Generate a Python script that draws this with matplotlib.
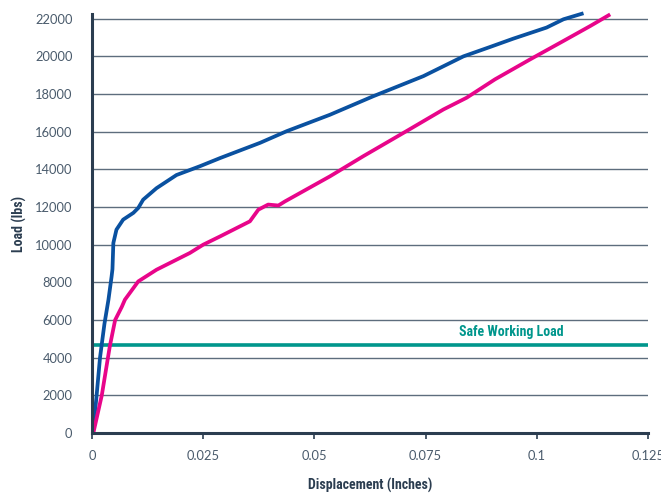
import matplotlib
matplotlib.use("Agg")
import matplotlib.pyplot as plt
from matplotlib import font_manager as fm

# Data
blue_x = [0.0002, 0.001, 0.0018, 0.0028, 0.0037, 0.0044, 0.0046, 0.0048, 0.0055, 0.007,
          0.0093, 0.0104, 0.0115, 0.0145, 0.019, 0.0243, 0.0288, 0.0378, 0.0438, 0.0535,
          0.0632, 0.0745, 0.0835, 0.0895, 0.0947, 0.1022, 0.106, 0.1105]
blue_y = [0, 1900, 4000, 5800, 7080, 8300, 8700, 10090, 10800, 11330,
          11690, 11950, 12390, 13000, 13700, 14170, 14600, 15410, 16030, 16900,
          17880, 18950, 20000, 20500, 20940, 21530, 21970, 22290]

pink_x = [0.0003, 0.0022, 0.004, 0.0052, 0.0067, 0.0074, 0.0104, 0.0145, 0.022, 0.025,
          0.0288, 0.0355, 0.0366, 0.0374, 0.0396, 0.0419, 0.0434, 0.0535, 0.061, 0.0707,
          0.079, 0.0842, 0.0906, 0.0985, 0.106, 0.112, 0.1165]
pink_y = [0, 2000, 4600, 6000, 6700, 7080, 8050, 8670, 9560, 10000,
          10440, 11240, 11600, 11860, 12130, 12080, 12300, 13630, 14700, 16030,
          17180, 17800, 18780, 19840, 20820, 21610, 22230]

safe_load = 4650
safe_label = "Safe Working Load"

x_ticks = [0, 0.025, 0.05, 0.075, 0.1, 0.125]
x_tick_labels = ["0", "0.025", "0.05", "0.075", "0.1", "0.125"]
y_ticks = list(range(0, 22001, 2000))
y_tick_labels = [str(v) for v in y_ticks]

BLUE = "#0a51a0"
PINK = "#e8058a"
TEAL = "#00968c"
NAVY = "#2b3d50"
GRID = "#5d6d7d"
TICKC = "#4a5b6c"

_avail = {f.name for f in fm.fontManager.ttflist}


def pick(cands, default="DejaVu Sans"):
    for c in cands:
        if c in _avail:
            return c
    return default


COND = pick(["Roboto Condensed", "Fira Sans Condensed", "Barlow Condensed", "PT Sans Narrow",
             "Archivo Narrow", "Open Sans Condensed", "Liberation Sans Narrow", "Oswald"])
TICKF = pick(["Lato", "Open Sans"])
cond_size = 10 if COND != "DejaVu Sans" else 8.5

fig = plt.figure(figsize=(6.61, 4.93), dpi=100)
ax = fig.add_axes([92/661, 1-433/493, (648-92)/661, (433-14)/493])

ax.set_xlim(0, 0.125)
ax.set_ylim(0, 22250)

for v in y_ticks[1:]:
    ax.axhline(v, color=GRID, lw=1.0, zorder=1)

ax.axhline(safe_load, color=TEAL, lw=2.6, zorder=2)
ax.text(0.0942, safe_load + 330, safe_label, color=TEAL, fontsize=cond_size, fontweight="bold",
        family=[COND, "DejaVu Sans"], ha="center", va="bottom")

ax.plot(blue_x, blue_y, color=BLUE, lw=2.7, zorder=3, solid_capstyle="butt", clip_on=False)
ax.plot(pink_x, pink_y, color=PINK, lw=2.7, zorder=3, solid_capstyle="butt", clip_on=False)

for s in ["top", "right"]:
    ax.spines[s].set_visible(False)
for s in ["left", "bottom"]:
    ax.spines[s].set_color(NAVY)
    ax.spines[s].set_linewidth(2.2)
    ax.spines[s].set_zorder(4)

ax.set_xticks(x_ticks)
ax.set_xticklabels(x_tick_labels)
ax.set_yticks(y_ticks)
ax.set_yticklabels(y_tick_labels)
ax.tick_params(axis="x", direction="out", length=4, width=1.2, color=NAVY, pad=8,
               labelsize=9.3, labelcolor=TICKC)
ax.tick_params(axis="y", length=0, pad=14, labelsize=9.3, labelcolor=TICKC)
for lab in ax.get_xticklabels() + ax.get_yticklabels():
    lab.set_family([TICKF, "DejaVu Sans"])

ax.set_xlabel("Displacement (Inches)", fontsize=cond_size, fontweight="bold",
              family=[COND, "DejaVu Sans"], color=NAVY, labelpad=12)
ax.set_ylabel("Load (lbs)", fontsize=cond_size, fontweight="bold",
              family=[COND, "DejaVu Sans"], color=NAVY, labelpad=6)

fig.savefig("out.png", dpi=100)
